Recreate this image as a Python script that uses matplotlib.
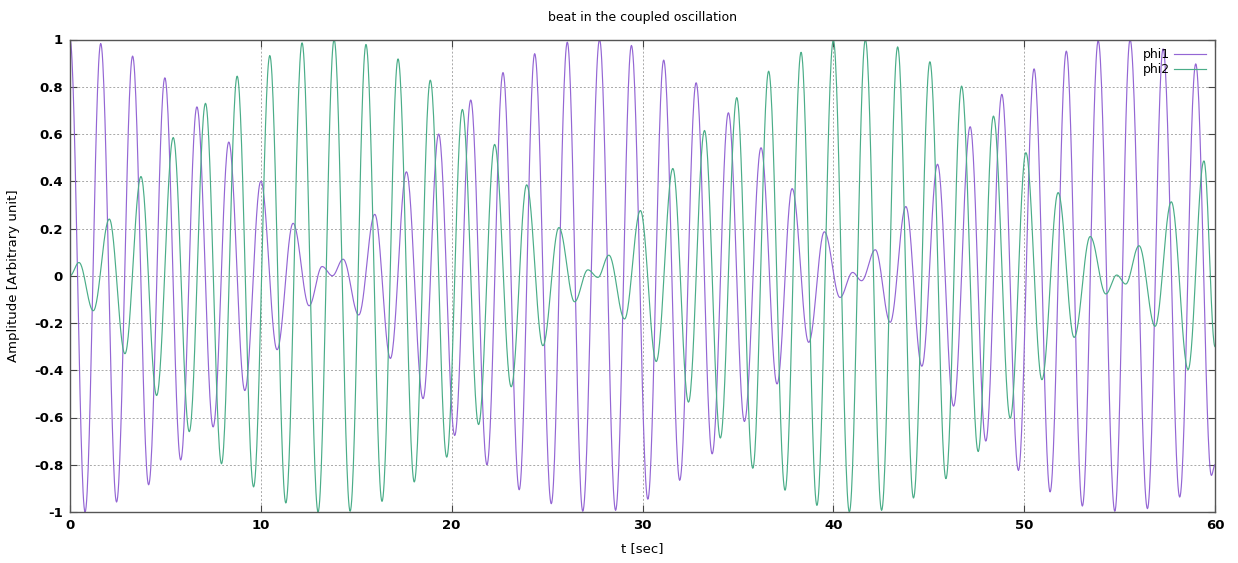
import numpy as np
import matplotlib
matplotlib.use('Agg')
import matplotlib.pyplot as plt
from matplotlib.ticker import FormatStrFormatter

plt.rcParams['axes.unicode_minus'] = False
plt.rcParams['font.family'] = ['DejaVu Sans']

title = "beat in the coupled oscillation"
xlabel = "t [sec]"
ylabel = "Amplitude [Arbitrary unit]"
series_names = ["phi1", "phi2"]
xticks = [0, 10, 20, 30, 40, 50, 60]
yticks = [-1, -0.8, -0.6, -0.4, -0.2, 0, 0.2, 0.4, 0.6, 0.8, 1]

# extrema (time, value)
phi1_t = [0, 0.79, 1.61, 2.44, 3.28, 4.12, 4.97, 5.80, 6.65, 7.50, 8.32, 9.16,
          10.0, 10.85, 11.69, 12.53, 13.21, 13.75, 14.31, 15.13, 15.97, 16.79,
          17.63, 18.50, 19.32, 20.16, 21.0, 21.85, 22.69, 23.54, 24.35, 25.22,
          26.06, 26.87, 27.75, 28.59, 29.42, 30.28, 31.11, 31.95, 32.81, 33.65,
          34.50, 35.34, 36.21, 37.05, 37.84, 38.71, 39.53, 40.35, 41.01, 41.48,
          42.20, 42.98, 43.80, 44.64, 45.46, 46.30, 47.17, 47.99, 48.83, 49.70,
          50.52, 51.36, 52.21, 53.05, 53.88, 54.75, 55.55, 56.46, 57.28, 58.15,
          58.99, 59.81, 60.0]
phi1_v = [1.0, -1.0, 0.983, -0.958, 0.93, -0.885, 0.838, -0.78, 0.715, -0.64,
          0.566, -0.486, 0.40, -0.313, 0.222, -0.127, 0.039, 0.0, 0.07, -0.166,
          0.26, -0.35, 0.44, -0.52, 0.60, -0.676, 0.744, -0.80, 0.86, -0.906,
          0.94, -0.965, 0.989, -0.997, 1.0, -0.993, 0.975, -0.946, 0.913, -0.866,
          0.817, -0.754, 0.69, -0.617, 0.542, -0.458, 0.369, -0.282, 0.186, -0.092,
          0.014, -0.021, 0.11, -0.197, 0.293, -0.383, 0.472, -0.552, 0.631, -0.70,
          0.768, -0.824, 0.876, -0.915, 0.951, -0.975, 0.995, -0.997, 1.0, -0.986,
          0.96, -0.937, 0.897, -0.845, -0.80]

phi2_t = [0, 0.47, 1.22, 2.06, 2.88, 3.72, 4.54, 5.41, 6.25, 7.10, 7.94, 8.76,
          9.62, 10.47, 11.31, 12.16, 13.0, 13.84, 14.68, 15.51, 16.35, 17.19,
          18.04, 18.88, 19.74, 20.56, 21.41, 22.25, 23.12, 23.93, 24.78, 25.62,
          26.44, 27.14, 27.66, 28.24, 29.06, 29.89, 30.72, 31.59, 32.41, 33.25,
          34.08, 34.94, 35.78, 36.61, 37.47, 38.31, 39.14, 40.0, 40.84, 41.68,
          42.53, 43.37, 44.20, 45.06, 45.90, 46.72, 47.59, 48.39, 49.27, 50.09,
          50.93, 51.78, 52.62, 53.46, 54.28, 54.85, 55.32, 56.02, 56.86, 57.71,
          58.59, 59.42, 60.0]
phi2_v = [0.0, 0.056, -0.148, 0.24, -0.33, 0.42, -0.507, 0.585, -0.66, 0.73,
          -0.796, 0.845, -0.894, 0.932, -0.962, 0.986, -1.0, 1.0, -0.997, 0.979,
          -0.955, 0.918, -0.873, 0.828, -0.768, 0.704, -0.63, 0.556, -0.47, 0.385,
          -0.296, 0.204, -0.11, 0.025, -0.007, 0.087, -0.183, 0.276, -0.363, 0.454,
          -0.535, 0.615, -0.687, 0.754, -0.815, 0.866, -0.908, 0.946, -0.972, 0.997,
          -1.0, 1.0, -0.993, 0.969, -0.941, 0.906, -0.859, 0.803, -0.744, 0.676,
          -0.603, 0.521, -0.44, 0.352, -0.261, 0.166, -0.077, 0.003, -0.035, 0.127,
          -0.214, 0.313, -0.397, 0.486, -0.30]

colors = ['#9466d4', '#4aad88']


def smooth_path(ts, vs, n=30):
    xs, ys = [], []
    for i in range(len(ts) - 1):
        s = np.linspace(0, 1, n, endpoint=False)
        xs.append(ts[i] + (ts[i + 1] - ts[i]) * s)
        ys.append(vs[i] + (vs[i + 1] - vs[i]) * (1 - np.cos(np.pi * s)) / 2)
    xs.append([ts[-1]])
    ys.append([vs[-1]])
    return np.concatenate(xs), np.concatenate(ys)


fig = plt.figure(figsize=(12.38, 5.63), dpi=100)
ax = fig.add_axes([70 / 1238, 1 - 512 / 563, (1215 - 70) / 1238, (512 - 39.5) / 563])

for (ts, vs), name, c in zip([(phi1_t, phi1_v), (phi2_t, phi2_v)], series_names, colors):
    x, y = smooth_path(ts, vs)
    ax.plot(x, y, color=c, lw=0.85, label=name)

ax.set_xlim(0, 60)
ax.set_ylim(-1, 1)
ax.set_xticks(xticks)
ax.set_yticks(yticks)
ax.yaxis.set_major_formatter(FormatStrFormatter('%g'))
ax.xaxis.set_major_formatter(FormatStrFormatter('%g'))
ax.tick_params(direction='in', top=True, right=True, length=5, width=0.8,
               labelsize=9.5, pad=5, color='#444444')
for lab in ax.get_xticklabels() + ax.get_yticklabels():
    lab.set_fontweight('bold')
ax.grid(True, color='#a8a8a8', linestyle=(0, (2, 2)), linewidth=0.7)
for sp in ax.spines.values():
    sp.set_color('#555555')
    sp.set_linewidth(1.0)

ax.set_title(title, fontsize=9, pad=13)
ax.set_xlabel(xlabel, fontsize=9.5, labelpad=7)
ax.set_ylabel(ylabel, fontsize=9.5, labelpad=10)

leg = ax.legend(loc='upper right', frameon=False, markerfirst=False,
                fontsize=9, handlelength=2.6, handletextpad=0.3,
                labelspacing=0.15, borderaxespad=0.3,
                bbox_to_anchor=(1.0, 1.0))

fig.savefig('out.png', dpi=100)
